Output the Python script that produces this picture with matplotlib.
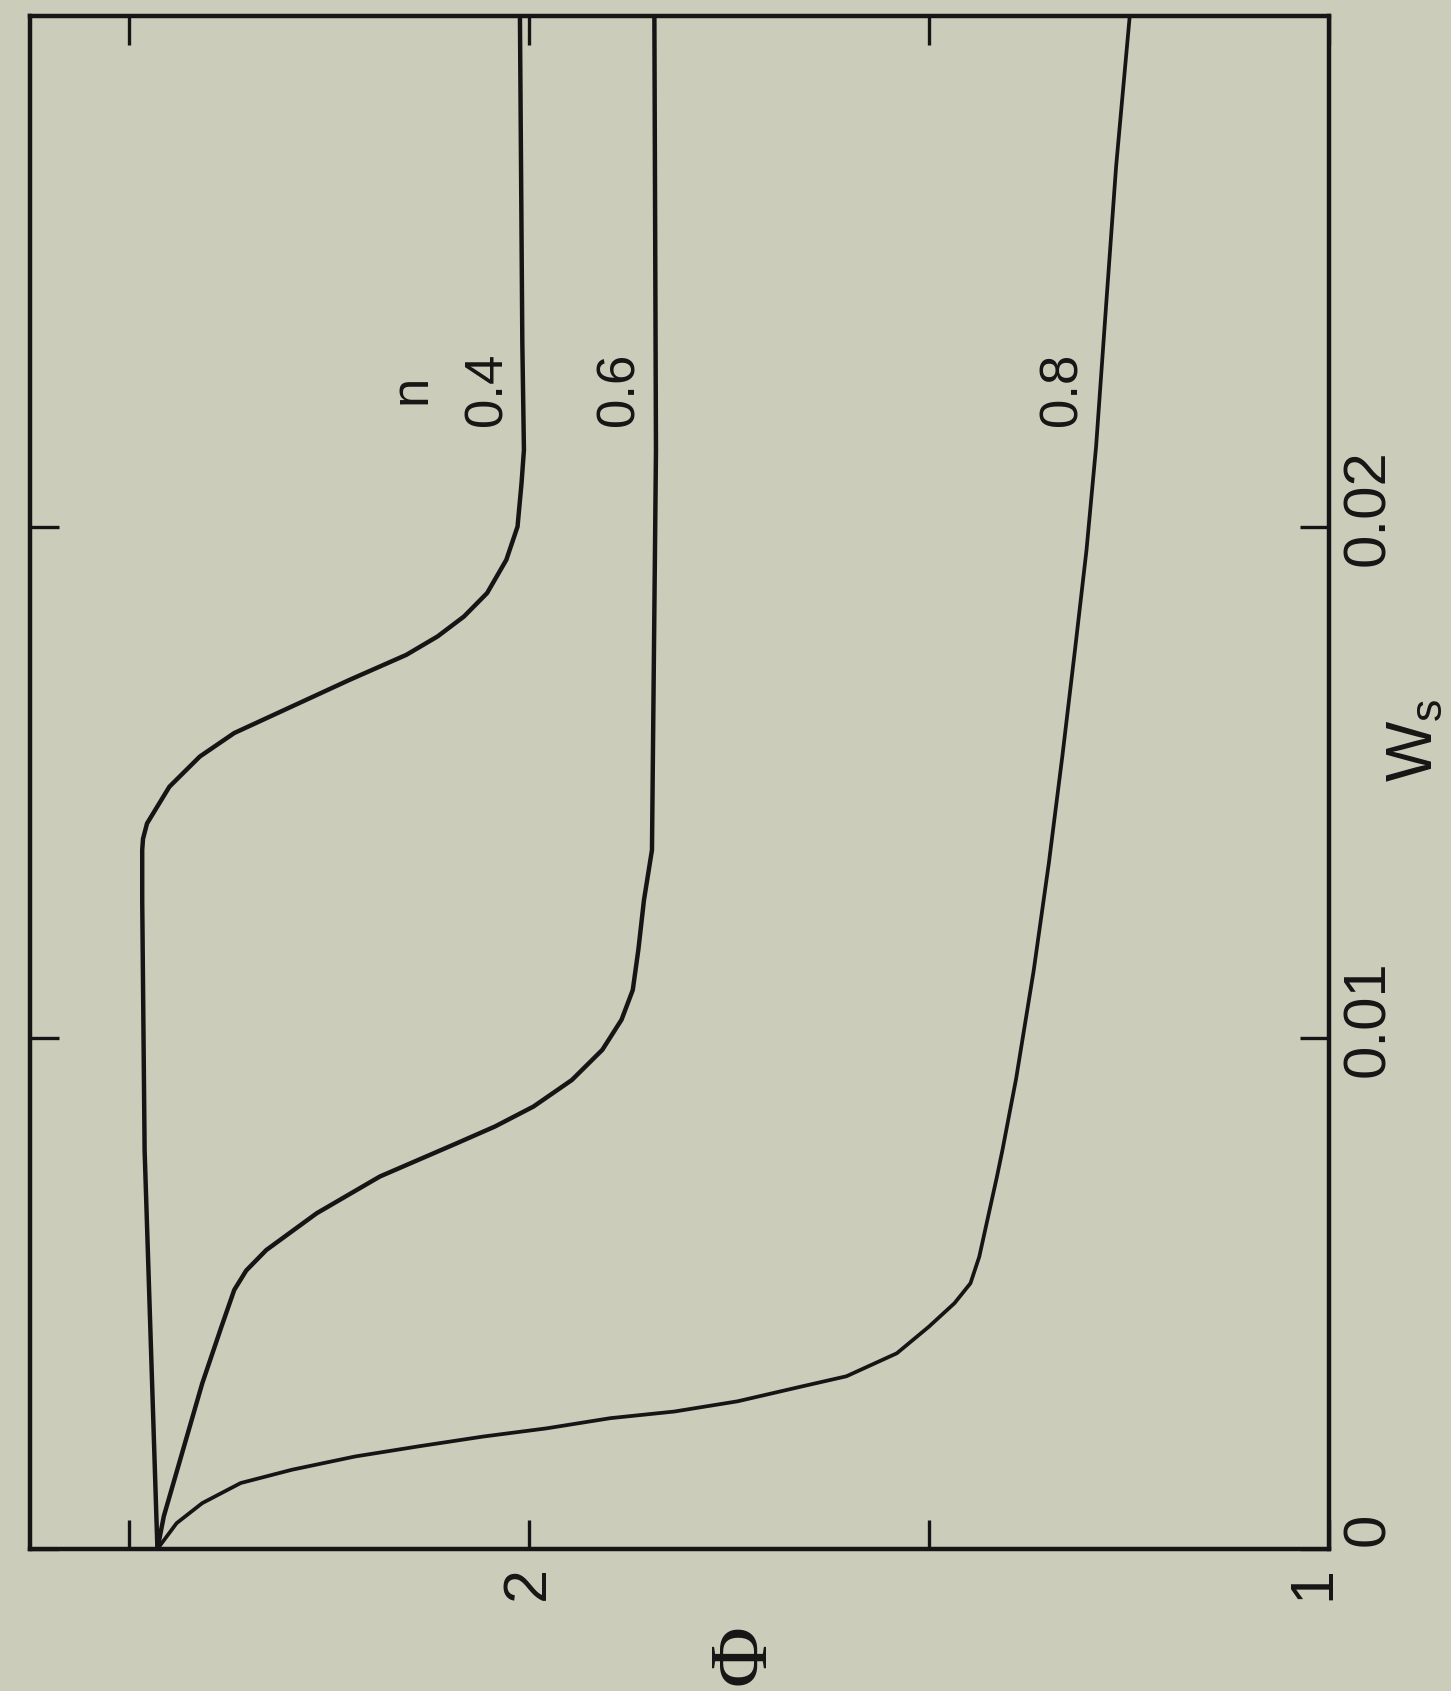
import matplotlib
matplotlib.use("Agg")
import matplotlib.pyplot as plt
from matplotlib.transforms import ScaledTranslation

plt.rcParams["font.family"] = ["Liberation Sans", "DejaVu Sans"]
plt.rcParams["mathtext.fontset"] = "custom"
plt.rcParams["mathtext.rm"] = "Liberation Sans"
plt.rcParams["mathtext.it"] = "Liberation Sans"

ws_04 = [0, 0.0039, 0.0078, 0.0127, 0.01368, 0.0139, 0.0142, 0.01492, 0.01551, 0.01597,
         0.01649, 0.01701, 0.0175, 0.01786, 0.01825, 0.01871, 0.01936, 0.02001, 0.02086,
         0.02151, 0.0236, 0.030]
phi_04 = [2.464, 2.472, 2.480, 2.483, 2.483, 2.482, 2.477, 2.449, 2.411, 2.368,
          2.296, 2.224, 2.153, 2.114, 2.081, 2.052, 2.028, 2.014, 2.009,
          2.006, 2.008, 2.011]

ws_06 = [0, 0.00064, 0.00194, 0.00324, 0.00435, 0.00507, 0.00545, 0.00585, 0.00657, 0.00729,
         0.00794, 0.00827, 0.00866, 0.00918, 0.00977, 0.01036, 0.01094, 0.01173, 0.0127,
         0.01368, 0.0215, 0.030]
phi_06 = [2.464, 2.456, 2.432, 2.408, 2.384, 2.368, 2.353, 2.328, 2.265, 2.186,
          2.090, 2.042, 1.994, 1.946, 1.908, 1.884, 1.870, 1.863, 1.856,
          1.846, 1.841, 1.843]

ws_08 = [0, 0.000505, 0.000897, 0.00129, 0.00155, 0.00181, 0.00201, 0.0022, 0.00236, 0.00256,
         0.00269, 0.00289, 0.00318, 0.00338, 0.00383, 0.00435, 0.00481, 0.0052, 0.00572,
         0.0065, 0.00728, 0.00781, 0.0092, 0.01132, 0.01343, 0.01554, 0.01765, 0.01955,
         0.02158, 0.02445, 0.02706, 0.030]
phi_08 = [2.464, 2.440, 2.408, 2.360, 2.296, 2.217, 2.137, 2.057, 1.978, 1.898,
          1.818, 1.739, 1.659, 1.603, 1.540, 1.500, 1.468, 1.448, 1.437,
          1.426, 1.415, 1.408, 1.391, 1.369, 1.350, 1.333, 1.317, 1.303,
          1.291, 1.278, 1.266, 1.249]

n_labels = ["0.4", "0.6", "0.8"]
label_phi = [2.052, 1.886, 1.333]
label_ws = 0.0227

phi_ticks = [1.0, 1.5, 2.0, 2.5]
phi_ticklabels = ["1", "", "2", ""]
ws_ticks = [0, 0.01, 0.02]
ws_ticklabels = ["0", "0.01", "0.02"]

BG = "#cbcdba"
INK = "#151515"

fig = plt.figure(figsize=(14.51, 16.91), dpi=100, facecolor=BG)
ax = fig.add_axes([0.0208, 0.0840, 0.8951, 0.9064], facecolor=BG)

line_kw = dict(color=INK, solid_joinstyle="round", solid_capstyle="butt")
ax.plot(phi_04, ws_04, lw=3.2, **line_kw)
ax.plot(phi_06, ws_06, lw=3.2, **line_kw)
ax.plot(phi_08, ws_08, lw=2.7, **line_kw)

ax.set_xlim(2.623, 1.0)
ax.set_ylim(0, 0.030)

for s in ax.spines.values():
    s.set_linewidth(3.2)
    s.set_color(INK)

ax.set_xticks(phi_ticks)
ax.set_xticklabels(phi_ticklabels)
ax.set_yticks(ws_ticks)
ax.set_yticklabels(ws_ticklabels)
ax.tick_params(axis="x", which="both", direction="in", length=21, width=2.4, color=INK,
               top=True, bottom=True, labelsize=44, labelrotation=90, pad=12,
               labelcolor=INK)
ax.tick_params(axis="y", which="both", direction="in", length=21, width=2.4, color=INK,
               left=True, right=True, labelleft=False, labelright=True,
               labelsize=43, labelrotation=90, pad=9, labelcolor=INK)

# the scanned labels sit a little above their ticks; "1" sits just inside the corner
up = ScaledTranslation(0, 14 / 72, fig.dpi_scale_trans)
for lab in ax.get_yticklabels():
    lab.set_verticalalignment("center")
    lab.set_transform(lab.get_transform() + up)
left = ScaledTranslation(-11 / 72, 0, fig.dpi_scale_trans)
xl = ax.get_xticklabels()[0]
xl.set_transform(xl.get_transform() + left)

ax.text(2.147, label_ws, "n", rotation=90, ha="center", va="center", fontsize=38, color=INK)
for txt, p in zip(n_labels, label_phi):
    ax.text(p, label_ws, txt, rotation=90, ha="center", va="center", fontsize=38, color=INK)

fig.text(1415 / 1451, 1 - 740 / 1691, r"W$_{\mathrm{s}}$", rotation=90, ha="center",
         va="center", fontsize=46, color=INK)
fig.text(745 / 1451, 1 - 1655 / 1691, "\u03a6", rotation=90, ha="center", va="center",
         fontsize=60, color=INK, family=["Liberation Serif", "DejaVu Serif"])

fig.savefig("out.png", dpi=100, facecolor=BG)
